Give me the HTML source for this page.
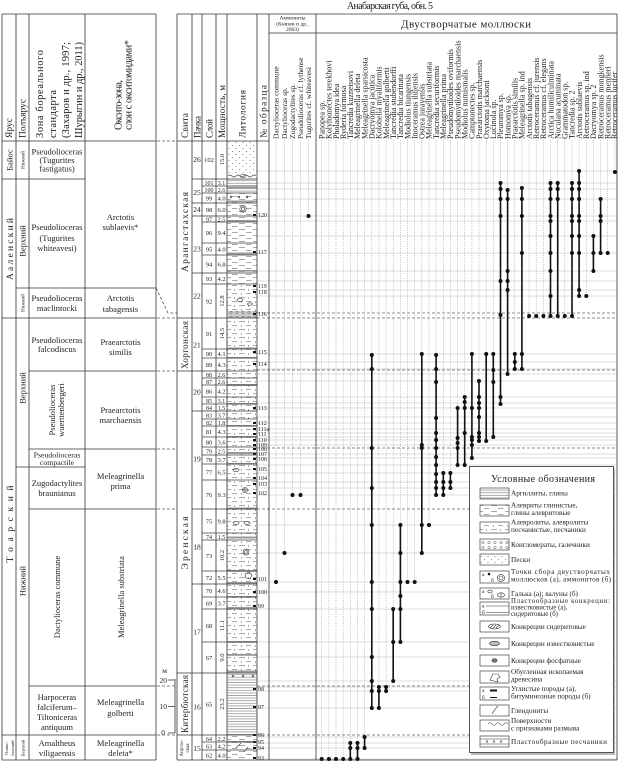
<!DOCTYPE html>
<html><head><meta charset="utf-8">
<style>
html,body{margin:0;padding:0;background:#fff}
svg{display:block}
svg text{font-family:"Liberation Serif","DejaVu Serif",serif;fill:#1e1e1e}
</style></head>
<body>
<svg width="619" height="763" viewBox="0 0 619 763" xmlns="http://www.w3.org/2000/svg">
<defs>
<pattern id="arg" patternUnits="userSpaceOnUse" width="10" height="2.6"><path d="M0 1.3H10" stroke="#555" stroke-width="0.5"/></pattern>
<pattern id="silt" patternUnits="userSpaceOnUse" width="14" height="6"><path d="M1 1.5H7 M8 4.5H13.5" stroke="#555" stroke-width="0.6"/></pattern>
<pattern id="sst" patternUnits="userSpaceOnUse" width="14" height="8"><path d="M1 1.5H7 M8 5.5H13" stroke="#555" stroke-width="0.6"/><circle cx="10.5" cy="2" r="0.55" fill="#333"/><circle cx="3.5" cy="6" r="0.55" fill="#333"/></pattern>
<pattern id="sand" patternUnits="userSpaceOnUse" width="7" height="6"><circle cx="1.5" cy="1.5" r="0.45" fill="#555"/><circle cx="5" cy="4.5" r="0.45" fill="#555"/></pattern>
<pattern id="cong" patternUnits="userSpaceOnUse" width="6" height="5"><circle cx="3" cy="2.5" r="1.2" fill="none" stroke="#555" stroke-width="0.5"/></pattern>
</defs>

<!-- Title -->
<text x="390" y="9" font-size="10" text-anchor="middle" textLength="86">Анабарская губа, обн. 5</text>

<!-- LEFT TABLE lines -->
<path d="M2 14H156 M2 141H156 M2 179H85 M16 288H156 M2 318H156 M29 371H156 M29 449H156 M16 467H85 M29 509H156 M29 686H156 M2 735H156 M2 760H156 M2 14V760 M16 14V760 M29 14V760 M85 14V760 M156 14V760" stroke="#333" stroke-width="0.8" fill="none"/>

<!-- left header texts -->
<text transform="translate(12,138) rotate(-90)" font-size="9.5">Ярус</text>
<text transform="translate(25.5,138) rotate(-90)" font-size="9.5">Полъярус</text>
<text transform="translate(43,138) rotate(-90)" font-size="10.5" textLength="88">Зона бореального</text>
<text transform="translate(56,138) rotate(-90)" font-size="10.5" textLength="48">стандарта</text>
<text transform="translate(69,138) rotate(-90)" font-size="10.5" textLength="96">(Захаров и др., 1997;</text>
<text transform="translate(82,138) rotate(-90)" font-size="10.5" textLength="96">Шурыгин и др., 2011)</text>
<text transform="translate(121.5,130) rotate(-90)" font-size="10.5" textLength="50">Оксито-зона,</text>
<text transform="translate(131.5,130) rotate(-90)" font-size="10.5" textLength="90">слои с окситомидами*</text>

<!-- Ярус / Полъярус -->
<g text-anchor="middle">
<text transform="translate(12.5,160) rotate(-90)" font-size="8.5">Байос</text>
<text transform="translate(13,249) rotate(-90)" font-size="9.5" textLength="62">Ааленский</text>
<text transform="translate(13,524) rotate(-90)" font-size="9.5" textLength="77">Тоарский</text>
<text transform="translate(8,748) rotate(-90)" font-size="4.5">Плинс-</text>
<text transform="translate(14,748) rotate(-90)" font-size="4.5">бахский</text>
<text transform="translate(24.5,160) rotate(-90)" font-size="5">Нижний</text>
<text transform="translate(25.5,241) rotate(-90)" font-size="8.5">Верхний</text>
<text transform="translate(24.5,303) rotate(-90)" font-size="5">Нижний</text>
<text transform="translate(25.5,388) rotate(-90)" font-size="8.5">Верхний</text>
<text transform="translate(25.5,581) rotate(-90)" font-size="8.5">Нижний</text>
<text transform="translate(24.5,748) rotate(-90)" font-size="4.5">Верхний</text>
</g>

<!-- Zones -->
<g text-anchor="middle" font-size="8.5">
<text x="57" y="154.5">Pseudolioceras</text>
<text x="57" y="163">(Tugurites</text>
<text x="57" y="171.5">fastigatus)</text>
<text x="57" y="230">Pseudolioceras</text>
<text x="57" y="241">(Tugurites</text>
<text x="57" y="251">whiteavesi)</text>
<text x="57" y="301">Pseudolioceras</text>
<text x="57" y="311">maclintocki</text>
<text x="57" y="343">Pseudolioceras</text>
<text x="57" y="352">falcodiscus</text>
<text transform="translate(55,410) rotate(-90)">Pseudolioceras</text>
<text transform="translate(64,410) rotate(-90)">wuerttenbergeri</text>
<text x="57" y="457.5" font-size="7.8">Pseudolioceras</text>
<text x="57" y="465" font-size="7.8">compactile</text>
<text x="57" y="486">Zugodactylites</text>
<text x="57" y="496">braunianus</text>
<text transform="translate(60,597) rotate(-90)">Dactylioceras commune</text>
<text x="57" y="700">Harpoceras</text>
<text x="57" y="710">falciferum–</text>
<text x="57" y="720">Tiltoniceras</text>
<text x="57" y="730">antiquum</text>
<text x="57" y="746">Amaltheus</text>
<text x="57" y="756">viligaensis</text>

<text x="120.5" y="220">Arctotis</text>
<text x="120.5" y="230">sublaevis*</text>
<text x="120.5" y="301">Arctotis</text>
<text x="120.5" y="312">tabagensis</text>
<text x="120.5" y="345">Praearctotis</text>
<text x="120.5" y="355">similis</text>
<text x="120.5" y="413">Praearctotis</text>
<text x="120.5" y="423">marchaensis</text>
<text x="120.5" y="479">Meleagrinella</text>
<text x="120.5" y="489">prima</text>
<text transform="translate(124,597) rotate(-90)">Meleagrinella substriata</text>
<text x="120.5" y="705">Meleagrinella</text>
<text x="120.5" y="716">golberti</text>
<text x="120.5" y="746">Meleagrinella</text>
<text x="120.5" y="756">deleta*</text>
</g>

<!-- connectors between tables -->
<path d="M157 141H177 M157 318H177 M157 371H177 M157 449H177 M157 509H177 M157 686H177 M157 735H177 M156 288L168 313H177" stroke="#555" stroke-width="0.8" stroke-dasharray="3 2" fill="none"/>

<!-- scale -->
<g font-size="7.5" text-anchor="end">
<text x="167" y="673">м</text>
<text x="167" y="683">20</text>
<text x="167" y="709">10</text>
<text x="165" y="735">0</text>
</g>
<path d="M168 680H175 M168 706.5H175 M168 733H175 M175 679V733" stroke="#333" stroke-width="0.8" fill="none"/>

<!-- RIGHT TABLE: lithology fills -->
<rect x="227.5" y="141" width="29.5" height="34" fill="url(#sand)"/>
<path d="M228 176q2 -2 4 0t4 0t4 0t4 0t4 0t4 0t4 0" stroke="#444" stroke-width="0.6" fill="none"/>
<ellipse cx="243" cy="176" rx="3" ry="1.6" fill="none" stroke="#444" stroke-width="0.6"/>
<rect x="227.5" y="179" width="29.5" height="14" fill="url(#arg)"/>
<rect x="227.5" y="193" width="29.5" height="10" fill="url(#silt)"/>
<rect x="227.5" y="203" width="29.5" height="81" fill="url(#silt)"/>
<rect x="227.5" y="284" width="29.5" height="389" fill="url(#sst)"/>
<rect x="227.5" y="673" width="29.5" height="62" fill="url(#arg)"/>
<rect x="227.5" y="735" width="29.5" height="25" fill="url(#silt)"/>
<rect x="227.5" y="311" width="29.5" height="7" fill="#ccc"/>
<rect x="227.5" y="311" width="29.5" height="7" fill="url(#cong)"/>
<g fill="#999">
<rect x="227.5" y="187" width="29.5" height="1.6"/>
<rect x="227.5" y="200.5" width="29.5" height="1.6"/>
<rect x="227.5" y="220" width="29.5" height="1.8"/>
<rect x="227.5" y="252.5" width="29.5" height="2.2"/>
<rect x="227.5" y="270" width="29.5" height="1.6"/>
<rect x="227.5" y="347.5" width="29.5" height="1.6"/>
<rect x="227.5" y="357" width="29.5" height="1.6"/>
<rect x="227.5" y="384" width="29.5" height="2"/>
<rect x="227.5" y="403" width="29.5" height="1.6"/>
<rect x="227.5" y="425" width="29.5" height="1.6"/>
<rect x="227.5" y="436" width="29.5" height="1.6"/>
<rect x="227.5" y="452" width="29.5" height="2"/>
<rect x="227.5" y="463" width="29.5" height="1.6"/>
<rect x="227.5" y="507.5" width="29.5" height="1.8"/>
<rect x="227.5" y="536.5" width="29.5" height="2"/>
<rect x="227.5" y="570" width="29.5" height="1.8"/>
<rect x="227.5" y="582" width="29.5" height="1.8"/>
<rect x="227.5" y="596" width="29.5" height="1.6"/>
<rect x="227.5" y="607" width="29.5" height="1.6"/>
<rect x="227.5" y="641" width="29.5" height="1.8"/>
<rect x="227.5" y="654" width="29.5" height="1.8"/>
<rect x="227.5" y="670.5" width="29.5" height="2"/>
<rect x="227.5" y="741" width="29.5" height="1.6"/>
</g>
<path d="M230 196l2 2m0 -2l-2 2 M238 196l2 2m0 -2l-2 2 M246 196l2 2m0 -2l-2 2 M232 675l2 2m0 -2l-2 2 M242 675l2 2m0 -2l-2 2 M252 675l2 2m0 -2l-2 2" stroke="#333" stroke-width="0.6"/>
<g fill="none" stroke="#333" stroke-width="0.6">
<circle cx="243" cy="209" r="3.2"/><circle cx="243" cy="209" r="1.6"/>
<circle cx="246" cy="552" r="3"/><circle cx="246" cy="552" r="1.4"/>
<circle cx="245" cy="490" r="2.6"/><circle cx="245" cy="490" r="1.2"/>
<ellipse cx="236" cy="523" rx="3" ry="1.4"/><ellipse cx="247" cy="523" rx="3" ry="1.4"/>
<ellipse cx="236" cy="470" rx="3" ry="1.4"/>
<ellipse cx="240" cy="300" rx="3" ry="1.4"/><ellipse cx="250" cy="304" rx="2.5" ry="1.2"/>
<path d="M245 574l4 -2l3 3l-2 4l-4 -1z"/>
<path d="M236 748l5 -5 M244 752l4 -5"/>
</g>
<!-- sample marks in lithology -->
<g fill="#111">
<rect x="253" y="214" width="3" height="2"/><rect x="253" y="251" width="3" height="2"/><rect x="253" y="285" width="3" height="2"/><rect x="253" y="291" width="3" height="2"/><rect x="253" y="313" width="3" height="2"/><rect x="253" y="351" width="3" height="2"/><rect x="253" y="363" width="3" height="2"/><rect x="253" y="407" width="3" height="2"/><rect x="253" y="422" width="3" height="2"/><rect x="253" y="428" width="3" height="2"/><rect x="253" y="433" width="3" height="2"/><rect x="253" y="439" width="3" height="2"/><rect x="253" y="444" width="3" height="2"/><rect x="253" y="448" width="3" height="2"/><rect x="253" y="453" width="3" height="2"/><rect x="253" y="458" width="3" height="2"/><rect x="253" y="468" width="3" height="2"/><rect x="253" y="477" width="3" height="2"/><rect x="253" y="483" width="3" height="2"/><rect x="253" y="492" width="3" height="2"/><rect x="253" y="578" width="3" height="2"/><rect x="253" y="591" width="3" height="2"/><rect x="253" y="605" width="3" height="2"/><rect x="253" y="688" width="3" height="2"/><rect x="253" y="706" width="3" height="2"/><rect x="253" y="734" width="3" height="2"/><rect x="253" y="741" width="3" height="2"/><rect x="253" y="747" width="3" height="2"/><rect x="253" y="757" width="3" height="2"/>
</g>

<!-- gray sample lines in data area -->
<path d="M257 171H617 M257 183H617 M257 189H617 M257 199H617 M257 216H617 M257 221H617 M257 236H617 M257 253H617 M257 271H617 M257 281H617 M257 290H617 M257 296H617 M257 354H617 M257 362H617 M257 369H617 M257 374H617 M257 381H617 M257 397H617 M257 403H617 M257 408H617 M257 417H617 M257 423H617 M257 429H617 M257 433H617 M257 437H617 M257 440H617 M257 445H617 M257 454H617 M257 458H617 M257 465H617 M257 473H617 M257 482H617 M257 488H617 M257 495H617 M257 525H617 M257 553H617 M257 582H617 M257 592H617 M257 609H617 M257 642H617 M257 657H617 M257 681H617 M257 687H617 M257 691H617 M257 708H617 M257 737H617 M257 743H617 M257 748H617 M257 759H617" stroke="#d2d2d2" stroke-width="0.7" fill="none"/>

<!-- dashed boundary lines in data area -->
<path d="M257 313H617 M257 318H617 M257 370H617 M257 448H617 M257 509H617 M257 686H617 M257 735H617" stroke="#666" stroke-width="0.8" stroke-dasharray="3 2" fill="none"/>

<!-- RIGHT TABLE structure -->
<path d="M177 14H617 M269 33H617 M177 141H269 M177 760H617 M177 14V760 M192 14V760 M202 14V760 M216 14V760 M227 14V760 M257 14V760 M269 14V760 M316 14V760 M617 14V760" stroke="#333" stroke-width="0.8" fill="none"/>
<path d="M177 318H257 M177 371H257 M177 673H257 M177 735H257 M192 179H257 M192 203H257 M192 216H257 M192 273H257 M192 411H257 M192 509H257 M192 584H257" stroke="#333" stroke-width="0.8" fill="none"/>
<path d="M202 186H257 M202 193H257 M202 222H257 M202 243H257 M202 255H257 M202 284H257 M202 349H257 M202 358H257 M202 378H257 M202 385H257 M202 397H257 M202 404H257 M202 419H257 M202 426H257 M202 437H257 M202 447H257 M202 455H257 M202 464H257 M202 480H257 M202 533H257 M202 540H257 M202 571H257 M202 597H257 M202 609H257 M202 642H257 M202 742H257 M202 750H257" stroke="#444" stroke-width="0.7" fill="none"/>

<!-- right header texts -->
<text transform="translate(188,138) rotate(-90)" font-size="9.5" textLength="25">Свита</text>
<text transform="translate(200.5,138) rotate(-90)" font-size="9" textLength="22">Пачка</text>
<text transform="translate(212.5,138) rotate(-90)" font-size="9" textLength="19">Слой</text>
<text transform="translate(225,138) rotate(-90)" font-size="9" textLength="53">Мощность, м</text>
<text transform="translate(245.5,138) rotate(-90)" font-size="9.5" textLength="48">Литология</text>
<text transform="translate(266.5,138) rotate(-90)" font-size="9.5" textLength="53">№ образца</text>

<g text-anchor="middle" font-size="5.6">
<text x="292.5" y="19.5">Аммониты</text>
<text x="292.5" y="25.5">(Князев и др.,</text>
<text x="292.5" y="31">2003)</text>
</g>
<text x="466" y="27.5" font-size="11" text-anchor="middle" textLength="130">Двустворчатые моллюски</text>

<!-- Svita -->
<g text-anchor="middle">
<text transform="translate(188,232) rotate(-90)" font-size="9.5" textLength="80">Арангастахская</text>
<text transform="translate(188,345) rotate(-90)" font-size="9" textLength="48">Хоргонская</text>
<text transform="translate(188,543) rotate(-90)" font-size="9.5" textLength="53">Эренская</text>
<text transform="translate(188,704) rotate(-90)" font-size="9" textLength="58">Китербютская</text>
<text transform="translate(183,748) rotate(-90)" font-size="5">Аиргас-</text>
<text transform="translate(189,748) rotate(-90)" font-size="5">ская</text>
</g>

<!-- Pachka -->
<g text-anchor="middle" font-size="7.5">
<text x="197" y="162">26</text><text x="197" y="195">25</text><text x="197" y="212">24</text><text x="197" y="251.5">23</text><text x="197" y="298.5">22</text><text x="197" y="347.5">21</text><text x="197" y="394.5">20</text><text x="197" y="461.5">19</text><text x="197" y="549.5">18</text><text x="197" y="634.5">17</text><text x="197" y="709.5">16</text><text x="197" y="751">15</text>
</g>

<!-- Layers -->
<g text-anchor="middle" font-size="6.5">
<text x="209" y="162">102</text>
<text x="209" y="184.8" font-size="6">101</text><text x="221.5" y="184.8" font-size="6">3.1</text>
<text x="209" y="191.8" font-size="6">100</text><text x="221.5" y="191.8" font-size="6">2.6</text>
<text x="209" y="200.3">99</text><text x="221.5" y="200.3">4.0</text>
<text x="209" y="211.8">98</text><text x="221.5" y="211.8">6.0</text>
<text x="209" y="221.3" font-size="6">97</text><text x="221.5" y="221.3" font-size="6">2.5</text>
<text x="209" y="234.8">96</text><text x="221.5" y="234.8">9.4</text>
<text x="209" y="251.3">95</text><text x="221.5" y="251.3">4.0</text>
<text x="209" y="266.3">94</text><text x="221.5" y="266.3">6.8</text>
<text x="209" y="280.8">93</text><text x="221.5" y="280.8">4.2</text>
<text x="209" y="303.3">92</text>
<text x="209" y="335.8">91</text>
<text x="209" y="355.8">90</text><text x="221.5" y="355.8">4.1</text>
<text x="209" y="366.8">89</text><text x="221.5" y="366.8">4.3</text>
<text x="209" y="376.8" font-size="6">88</text><text x="221.5" y="376.8" font-size="6">2.6</text>
<text x="209" y="383.8" font-size="6">87</text><text x="221.5" y="383.8" font-size="6">2.6</text>
<text x="209" y="393.3">86</text><text x="221.5" y="393.3">4.2</text>
<text x="209" y="402.8" font-size="6">85</text><text x="221.5" y="402.8" font-size="6">3.1</text>
<text x="209" y="409.8" font-size="6">84</text><text x="221.5" y="409.8" font-size="6">1.5</text>
<text x="209" y="417.3" font-size="6">83</text><text x="221.5" y="417.3" font-size="6">3.7</text>
<text x="209" y="424.8" font-size="6">82</text><text x="221.5" y="424.8" font-size="6">1.8</text>
<text x="209" y="433.8">81</text><text x="221.5" y="433.8">4.3</text>
<text x="209" y="444.3">80</text><text x="221.5" y="444.3">3.6</text>
<text x="209" y="453.3" font-size="6">79</text><text x="221.5" y="453.3" font-size="6">2.5</text>
<text x="209" y="461.8">78</text><text x="221.5" y="461.8">3.7</text>
<text x="209" y="474.3">77</text><text x="221.5" y="474.3">6.5</text>
<text x="209" y="496.8">76</text><text x="221.5" y="496.8">9.3</text>
<text x="209" y="523.3">75</text><text x="221.5" y="523.3">9.8</text>
<text x="209" y="538.8" font-size="6">74</text><text x="221.5" y="538.8" font-size="6">1.5</text>
<text x="209" y="557.8">73</text>
<text x="209" y="579.8">72</text><text x="221.5" y="579.8">5.5</text>
<text x="209" y="592.8">70</text><text x="221.5" y="592.8">4.6</text>
<text x="209" y="605.3">69</text><text x="221.5" y="605.3">3.7</text>
<text x="209" y="627.8">68</text>
<text x="209" y="659.8">67</text>
<text x="209" y="706.3">65</text>
<text x="209" y="740.8" font-size="6">64</text><text x="221.5" y="740.8" font-size="6">2.2</text>
<text x="209" y="748.3" font-size="6">63</text><text x="221.5" y="748.3" font-size="6">4.2</text>
<text x="209" y="757.3">62</text><text x="221.5" y="757.3">4.0</text>
<text transform="translate(224,159.5) rotate(-90)">15.0</text>
<text transform="translate(224,301) rotate(-90)">12.8</text>
<text transform="translate(224,333.5) rotate(-90)">14.5</text>
<text transform="translate(224,555.5) rotate(-90)">10.2</text>
<text transform="translate(224,625.5) rotate(-90)">11.1</text>
<text transform="translate(224,657.5) rotate(-90)">9.0</text>
<text transform="translate(224,704) rotate(-90)">23.2</text>
</g>

<!-- sample numbers -->
<g font-size="6">
<text x="258" y="217">120</text><text x="258" y="254">117</text><text x="258" y="288">119</text><text x="258" y="294">118</text><text x="258" y="316">116</text><text x="258" y="354">115</text><text x="258" y="366">114</text><text x="258" y="410">113</text><text x="258" y="425">112</text><text x="258" y="431">111a</text><text x="258" y="436">111</text><text x="258" y="442">110</text><text x="258" y="447">109</text><text x="258" y="451">108</text><text x="258" y="456">107</text><text x="258" y="461">106</text><text x="258" y="471">105</text><text x="258" y="480">104</text><text x="258" y="486">103</text><text x="258" y="495">102</text><text x="258" y="581">101</text><text x="258" y="594">100</text><text x="258" y="608">99</text><text x="258" y="691">98</text><text x="258" y="709">97</text><text x="258" y="737">96</text><text x="258" y="744">95</text><text x="258" y="750">94</text><text x="258" y="760">93</text>
</g>

<!-- species names -->
<g font-size="7.5">
<text transform="translate(278.5,139) rotate(-90)">Dactylioceras commune</text>
<text transform="translate(287,139) rotate(-90)">Dactylioceras sp.</text>
<text transform="translate(295,139) rotate(-90)">Zugodactylites sp.</text>
<text transform="translate(303,139) rotate(-90)">Pseudolioceras cf. lythense</text>
<text transform="translate(311,139) rotate(-90)">Tugurites cf. whiteavesi</text>
</g>
<g font-size="8">
<text transform="translate(324.5,139) rotate(-90)">Panopea sp.</text>
<text transform="translate(331.6,139) rotate(-90)">Kolymonectes terekhovi</text>
<text transform="translate(338.8,139) rotate(-90)">Pholadomya idea</text>
<text transform="translate(345.9,139) rotate(-90)">Ryderia formosa</text>
<text transform="translate(353.1,139) rotate(-90)">Tancredia kuznetsovi</text>
<text transform="translate(360.2,139) rotate(-90)">Meleagrinella deleta</text>
<text transform="translate(367.4,139) rotate(-90)">Meleagrinella sparsicosta</text>
<text transform="translate(374.5,139) rotate(-90)">Dacryomya jacutica</text>
<text transform="translate(381.7,139) rotate(-90)">Kolonella myaliformis</text>
<text transform="translate(388.8,139) rotate(-90)">Meleagrinella golberti</text>
<text transform="translate(396,139) rotate(-90)">Tancredia stubendorffi</text>
<text transform="translate(403.1,139) rotate(-90)">Tancredia bicarinata</text>
<text transform="translate(410.3,139) rotate(-90)">Modiolus tiungensis</text>
<text transform="translate(417.4,139) rotate(-90)">Inoceramus ilujensis</text>
<text transform="translate(424.6,139) rotate(-90)">Ostrea jurayensis</text>
<text transform="translate(431.7,139) rotate(-90)">Meleagrinella substriata</text>
<text transform="translate(438.9,139) rotate(-90)">Tancredia securiformis</text>
<text transform="translate(446,139) rotate(-90)">Meleagrinella prima</text>
<text transform="translate(453.2,139) rotate(-90)">Pseudomytiloides oviformis</text>
<text transform="translate(460.3,139) rotate(-90)">Pseudomytiloides marchaensis</text>
<text transform="translate(467.5,139) rotate(-90)">Modiolus numismalis</text>
<text transform="translate(474.6,139) rotate(-90)">Camptonectes sp.</text>
<text transform="translate(481.8,139) rotate(-90)">Praearctotis marchaensis</text>
<text transform="translate(488.9,139) rotate(-90)">Oxytoma jacksoni</text>
<text transform="translate(496.1,139) rotate(-90)">Lucinola sp.</text>
<text transform="translate(503.2,139) rotate(-90)">Pleuromya sp.</text>
<text transform="translate(510.4,139) rotate(-90)">Homomya sp.</text>
<text transform="translate(517.5,139) rotate(-90)">Praearctotis similis</text>
<text transform="translate(524.7,139) rotate(-90)">Meleagrinella sp. ind</text>
<text transform="translate(531.8,139) rotate(-90)">Arctotis tabagensis</text>
<text transform="translate(539,139) rotate(-90)">Retroceramus cf. jurensis</text>
<text transform="translate(546.1,139) rotate(-90)">Retroceramus cf. elegans</text>
<text transform="translate(553.3,139) rotate(-90)">Arctica humiliculminata</text>
<text transform="translate(560.4,139) rotate(-90)">Nuculana acuminata</text>
<text transform="translate(567.6,139) rotate(-90)">Grammatodon sp.</text>
<text transform="translate(574.7,139) rotate(-90)">Tancredia sp. 2</text>
<text transform="translate(581.9,139) rotate(-90)">Arctotis sublaevis</text>
<text transform="translate(589,139) rotate(-90)">Retroceramus sp. ind</text>
<text transform="translate(596.2,139) rotate(-90)">Dacryomya sp. 2</text>
<text transform="translate(603.3,139) rotate(-90)">Retroceramus mongkensis</text>
<text transform="translate(610.5,139) rotate(-90)">Retroceramus menneri</text>
<text transform="translate(617,139) rotate(-90)">Retroceramus lucifer</text>
</g>

<!-- dotted guide lines -->
<path d="M276 140V582 M284.5 140V553 M292.5 140V495 M300.5 140V495 M308.5 140V216
M321.7 140V759 M328.9 140V759 M336 140V759 M343.2 140V759 M350.3 140V743 M357.5 140V743 M364.6 140V737 M371.8 140V355 M378.9 140V687 M386.1 140V687 M393.2 140V609 M400.4 140V525 M407.5 140V582 M414.7 140V582 M421.8 140V354 M429 140V525 M436.1 140V355 M443.3 140V473 M450.4 140V473 M457.6 140V408 M464.7 140V397 M471.9 140V354 M479 140V381 M486.2 140V354 M493.3 140V354 M500.5 140V183 M507.6 140V190 M514.8 140V354 M521.9 140V188 M529.1 140V316 M536.2 140V316 M543.4 140V316 M550.5 140V183 M557.7 140V183 M564.8 140V316 M572 140V183 M579.1 140V171 M586.3 140V296 M593.4 140V236 M600.6 140V199 M607.7 140V253 M614.9 140V172" stroke="#9a9a9a" stroke-width="0.6" stroke-dasharray="1 1.3" fill="none"/>

<!-- range lines -->
<path d="M350.3 743V759 M357.5 743V759 M364.6 737V748 M371.8 355V708 M378.9 687V708 M386.1 687V691 M393.2 609V681 M400.4 525V642 M421.8 354V553 M436.1 355V495 M443.3 473V495 M450.4 473V488 M457.6 408V465 M464.7 397V465 M471.9 354V458 M479 381V441 M486.2 354V441 M493.3 354V437 M500.5 183V404 M507.6 190V374 M514.8 354V369 M521.9 188V369 M550.5 183V316 M557.7 183V316 M572 183V316 M579.1 171V296 M593.4 236V271 M600.6 199V253" stroke="#111" stroke-width="1.6" fill="none"/>

<!-- dots -->
<g fill="#111">
<circle cx="276" cy="582" r="2"/><circle cx="284.5" cy="553" r="2"/><circle cx="292.5" cy="495" r="2"/><circle cx="300.5" cy="495" r="2"/><circle cx="308.5" cy="216" r="2"/>
<circle cx="321.7" cy="759" r="2"/><circle cx="328.9" cy="759" r="2"/><circle cx="336" cy="759" r="2"/><circle cx="343.2" cy="759" r="2"/>
<circle cx="350.3" cy="743" r="2"/><circle cx="350.3" cy="748" r="2"/><circle cx="350.3" cy="759" r="2"/>
<circle cx="357.5" cy="743" r="2"/><circle cx="357.5" cy="748" r="2"/><circle cx="357.5" cy="759" r="2"/>
<circle cx="364.6" cy="737" r="2"/><circle cx="364.6" cy="748" r="2"/>
<circle cx="371.8" cy="355" r="2"/><circle cx="371.8" cy="369" r="2"/><circle cx="371.8" cy="448" r="2"/><circle cx="371.8" cy="488" r="2"/><circle cx="371.8" cy="525" r="2"/><circle cx="371.8" cy="582" r="2"/><circle cx="371.8" cy="609" r="2"/><circle cx="371.8" cy="657" r="2"/><circle cx="371.8" cy="681" r="2"/><circle cx="371.8" cy="691" r="2"/><circle cx="371.8" cy="708" r="2"/>
<circle cx="378.9" cy="687" r="2"/><circle cx="378.9" cy="691" r="2"/><circle cx="378.9" cy="708" r="2"/>
<circle cx="386.1" cy="687" r="2"/><circle cx="386.1" cy="691" r="2"/>
<circle cx="393.2" cy="609" r="2"/><circle cx="393.2" cy="642" r="2"/><circle cx="393.2" cy="681" r="2"/>
<circle cx="400.4" cy="525" r="2"/><circle cx="400.4" cy="553" r="2"/><circle cx="400.4" cy="582" r="2"/><circle cx="400.4" cy="596" r="2"/><circle cx="400.4" cy="609" r="2"/><circle cx="400.4" cy="642" r="2"/>
<circle cx="407.5" cy="582" r="2"/><circle cx="414.7" cy="582" r="2"/>
<circle cx="421.8" cy="354" r="2"/><circle cx="421.8" cy="445" r="2"/><circle cx="421.8" cy="448" r="2"/><circle cx="421.8" cy="525" r="2"/><circle cx="421.8" cy="553" r="2"/>
<circle cx="429" cy="525" r="2"/>
<circle cx="436.1" cy="355" r="2"/><circle cx="436.1" cy="369" r="2"/><circle cx="436.1" cy="382" r="2"/><circle cx="436.1" cy="418" r="2"/><circle cx="436.1" cy="433" r="2"/><circle cx="436.1" cy="440" r="2"/><circle cx="436.1" cy="448" r="2"/><circle cx="436.1" cy="457" r="2"/><circle cx="436.1" cy="465" r="2"/><circle cx="436.1" cy="474" r="2"/><circle cx="436.1" cy="482" r="2"/><circle cx="436.1" cy="488" r="2"/><circle cx="436.1" cy="495" r="2"/>
<circle cx="443.3" cy="473" r="2"/><circle cx="443.3" cy="482" r="2"/><circle cx="443.3" cy="488" r="2"/><circle cx="443.3" cy="495" r="2"/>
<circle cx="450.4" cy="473" r="2"/><circle cx="450.4" cy="482" r="2"/><circle cx="450.4" cy="488" r="2"/>
<circle cx="457.6" cy="408" r="2"/><circle cx="457.6" cy="438" r="2"/><circle cx="457.6" cy="443" r="2"/><circle cx="457.6" cy="448" r="2"/><circle cx="457.6" cy="465" r="2"/>
<circle cx="464.7" cy="397" r="2"/><circle cx="464.7" cy="402" r="2"/><circle cx="464.7" cy="408" r="2"/><circle cx="464.7" cy="433" r="2"/><circle cx="464.7" cy="465" r="2"/>
<circle cx="471.9" cy="354" r="2"/><circle cx="471.9" cy="408" r="2"/><circle cx="471.9" cy="437" r="2"/><circle cx="471.9" cy="440" r="2"/><circle cx="471.9" cy="445" r="2"/><circle cx="471.9" cy="458" r="2"/>
<circle cx="479" cy="381" r="2"/><circle cx="479" cy="397" r="2"/><circle cx="479" cy="403" r="2"/><circle cx="479" cy="408" r="2"/><circle cx="479" cy="417" r="2"/><circle cx="479" cy="433" r="2"/><circle cx="479" cy="437" r="2"/><circle cx="479" cy="441" r="2"/>
<circle cx="486.2" cy="354" r="2"/><circle cx="486.2" cy="441" r="2"/>
<circle cx="493.3" cy="354" r="2"/><circle cx="493.3" cy="370" r="2"/><circle cx="493.3" cy="382" r="2"/><circle cx="493.3" cy="437" r="2"/>
<circle cx="500.5" cy="183" r="2"/><circle cx="500.5" cy="189" r="2"/><circle cx="500.5" cy="199" r="2"/><circle cx="500.5" cy="216" r="2"/><circle cx="500.5" cy="281" r="2"/><circle cx="500.5" cy="315" r="2"/><circle cx="500.5" cy="397" r="2"/><circle cx="500.5" cy="404" r="2"/>
<circle cx="507.6" cy="190" r="2"/><circle cx="507.6" cy="199" r="2"/><circle cx="507.6" cy="271" r="2"/><circle cx="507.6" cy="281" r="2"/><circle cx="507.6" cy="290" r="2"/><circle cx="507.6" cy="374" r="2"/>
<circle cx="514.8" cy="354" r="2"/><circle cx="514.8" cy="362" r="2"/><circle cx="514.8" cy="369" r="2"/>
<circle cx="521.9" cy="188" r="2"/><circle cx="521.9" cy="199" r="2"/><circle cx="521.9" cy="216" r="2"/><circle cx="521.9" cy="253" r="2"/><circle cx="521.9" cy="354" r="2"/><circle cx="521.9" cy="369" r="2"/>
<circle cx="529.1" cy="316" r="2"/><circle cx="536.2" cy="316" r="2"/><circle cx="543.4" cy="316" r="2"/>
<circle cx="550.5" cy="183" r="2"/><circle cx="550.5" cy="189" r="2"/><circle cx="550.5" cy="199" r="2"/><circle cx="550.5" cy="216" r="2"/><circle cx="550.5" cy="221" r="2"/><circle cx="550.5" cy="236" r="2"/><circle cx="550.5" cy="253" r="2"/><circle cx="550.5" cy="271" r="2"/><circle cx="550.5" cy="296" r="2"/><circle cx="550.5" cy="316" r="2"/>
<circle cx="557.7" cy="183" r="2"/><circle cx="557.7" cy="189" r="2"/><circle cx="557.7" cy="199" r="2"/><circle cx="557.7" cy="316" r="2"/>
<circle cx="564.8" cy="316" r="2"/>
<circle cx="572" cy="183" r="2"/><circle cx="572" cy="189" r="2"/><circle cx="572" cy="199" r="2"/><circle cx="572" cy="216" r="2"/><circle cx="572" cy="221" r="2"/><circle cx="572" cy="236" r="2"/><circle cx="572" cy="253" r="2"/><circle cx="572" cy="316" r="2"/>
<circle cx="579.1" cy="171" r="2"/><circle cx="579.1" cy="183" r="2"/><circle cx="579.1" cy="189" r="2"/><circle cx="579.1" cy="199" r="2"/><circle cx="579.1" cy="216" r="2"/><circle cx="579.1" cy="221" r="2"/><circle cx="579.1" cy="236" r="2"/><circle cx="579.1" cy="253" r="2"/><circle cx="579.1" cy="290" r="2"/><circle cx="579.1" cy="296" r="2"/>
<circle cx="586.3" cy="296" r="2"/>
<circle cx="593.4" cy="236" r="2"/><circle cx="593.4" cy="253" r="2"/><circle cx="593.4" cy="271" r="2"/>
<circle cx="600.6" cy="199" r="2"/><circle cx="600.6" cy="216" r="2"/><circle cx="600.6" cy="221" r="2"/><circle cx="600.6" cy="253" r="2"/>
<circle cx="607.7" cy="253" r="2"/>
<circle cx="614.9" cy="172" r="2"/>
</g>

<!-- LEGEND -->
<rect x="471" y="468" width="144" height="287" fill="#bbb"/>
<rect x="469.5" y="466.5" width="144" height="286" fill="#fff" stroke="#444" stroke-width="0.9"/>
<text x="543" y="482" font-size="10" text-anchor="middle" textLength="104">Условные обозначения</text>
<g stroke="#444" stroke-width="0.7">
<rect x="480" y="488" width="29" height="11" fill="url(#arg)"/>
<rect x="480" y="505" width="29" height="11" fill="url(#silt)"/>
<rect x="480" y="522" width="29" height="11" fill="url(#sst)"/>
<rect x="480" y="539" width="29" height="11" fill="url(#cong)"/>
<rect x="480" y="554" width="29" height="11" fill="url(#sand)"/>
<rect x="480" y="571" width="29" height="12" fill="#fff"/>
<rect x="480" y="588" width="29" height="11" fill="#fff"/>
<rect x="480" y="602" width="29" height="13" fill="#fff"/>
<rect x="480" y="621" width="29" height="11" fill="#fff"/>
<rect x="480" y="638" width="29" height="11" fill="#fff"/>
<rect x="480" y="655" width="29" height="11" fill="#fff"/>
<rect x="480" y="671" width="29" height="12" fill="#fff"/>
<rect x="480" y="687" width="29" height="13" fill="#fff"/>
<rect x="480" y="705" width="29" height="11" fill="#fff"/>
<rect x="480" y="720" width="29" height="11" fill="#fff"/>
<rect x="480" y="736" width="29" height="11" fill="#fff"/>
</g>
<g font-size="5.5">
<text x="482" y="576">а</text><text x="491" y="582">б</text>
<text x="482" y="593">а</text><text x="491" y="598">б</text>
<text x="482" y="607.5">а</text><text x="482" y="614">б</text>
<text x="482" y="692">а</text><text x="482" y="699">б</text>
</g>
<circle cx="489" cy="574" r="1.3" fill="#111"/>
<g fill="none" stroke="#333" stroke-width="0.6">
<circle cx="501" cy="578" r="3.6"/><circle cx="501" cy="578" r="2"/>
<ellipse cx="490" cy="591.5" rx="2.2" ry="1.4"/>
<ellipse cx="501" cy="595" rx="3.5" ry="2.2"/><path d="M501 593v4"/>
<path d="M486 606H509 M486 612.5H509"/>
<ellipse cx="494.5" cy="626.5" rx="6" ry="2.4"/><path d="M490 628l3 -3 M493 628l3 -3 M496 628l3 -3"/>
<ellipse cx="494.5" cy="643.5" rx="5" ry="2.2" fill="#bbb"/>
<ellipse cx="494.5" cy="660.5" rx="2.6" ry="1.8" fill="#777"/>
<path d="M490 680l3 -6l5 0l2 3l-3 2l1 3z"/>
<path d="M488 724q2 -2.5 4 0t4 0t4 0t4 0t4 0"/>
<path d="M480 739H509 M480 744H509"/>
<path d="M486 740.5l2 2m0 -2l-2 2 M493 740.5l2 2m0 -2l-2 2 M500 740.5l2 2m0 -2l-2 2"/>
<path d="M492 714q3 -5 6 -8"/>
</g>
<path d="M490 690.5H497" stroke="#111" stroke-width="2"/>
<path d="M490 697.5H497" stroke="#111" stroke-width="1"/>
<g font-size="7.2">
<text x="511" y="495.5">Аргиллиты, глины</text>
<text x="511" y="507.5">Алевриты глинистые,</text>
<text x="511" y="515">глины алевритовые</text>
<text x="511" y="524.5">Алевролиты, алевролиты</text>
<text x="511" y="532">песчанистые, песчаники</text>
<text x="511" y="547">Конгломераты, галечники</text>
<text x="511" y="562">Пески</text>
<text x="511" y="574" textLength="99">Точки сбора двустворчатых</text>
<text x="511" y="581.5" textLength="100">моллюсков (а), аммонитов (б)</text>
<text x="511" y="596">Галька (а); валуны (б)</text>
<text x="511" y="603" font-size="6.8" textLength="99">Пластообразные конкреции:</text>
<text x="511" y="609.5" font-size="6.8">известковистые (а),</text>
<text x="511" y="616" font-size="6.8">сидеритовые (б)</text>
<text x="511" y="629">Конкреции сидеритовые</text>
<text x="511" y="646">Конкреции  известковистые</text>
<text x="511" y="663">Конкреции  фосфатные</text>
<text x="511" y="674">Обугленная ископаемая</text>
<text x="511" y="681.5">древесина</text>
<text x="511" y="691">Углистые породы (а),</text>
<text x="511" y="698.5">битуминозные породы (б)</text>
<text x="511" y="713">Глендониты</text>
<text x="511" y="723">Поверхности</text>
<text x="511" y="730.5">с признаками размыва</text>
<text x="511" y="744" textLength="96">Пластообразные песчаники</text>
</g>
</svg>
</body></html>
